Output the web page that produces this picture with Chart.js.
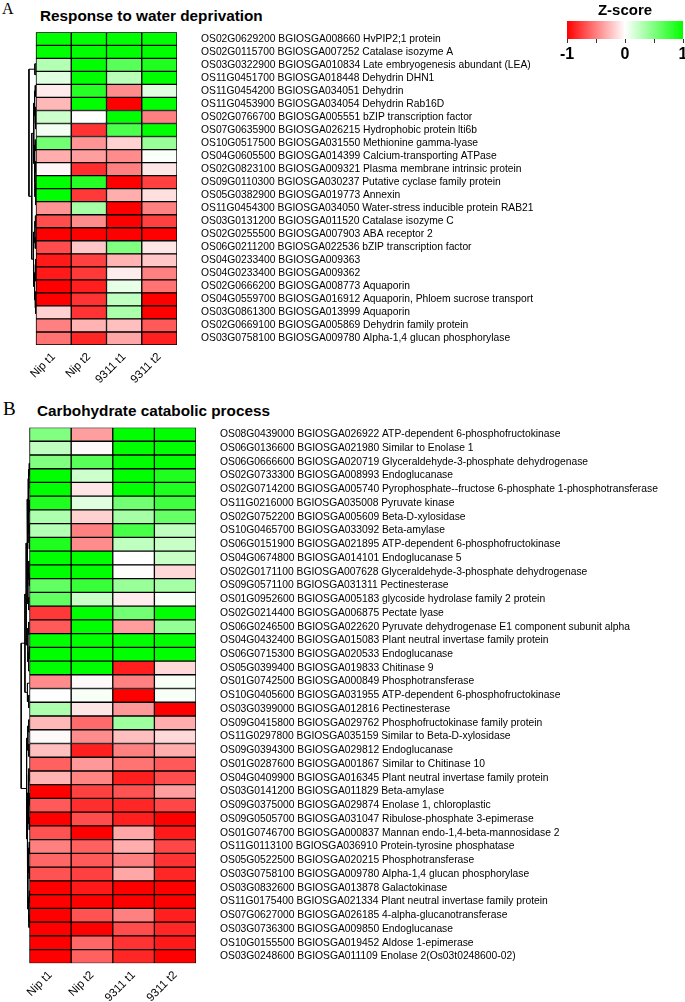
<!DOCTYPE html>
<html lang="en">
  <head>
    <meta charset="UTF-8" />
    <title>Heatmaps</title>
    <script src="https://cdn.jsdelivr.net/npm/chart.js"></script>
    <style>
      body { margin: 0; background: #fff; }
      #page { position: relative; width: 685px; height: 1002px; }
      canvas { position: absolute; }
      .tag { position: absolute; font-family: "Liberation Serif", "Times New Roman", serif; line-height: 1; }
      .ttl { position: absolute; font-family: "Liberation Sans", Arial, sans-serif; font-weight: bold; font-size: 15.3px; line-height: 1; white-space: nowrap; }
    </style>
  </head>
  <body>
    <div id="page">
      <div class="tag" style="left:2px;top:1px;font-size:16px">A</div>
      <div class="ttl" style="left:40px;top:7.5px">Response to water deprivation</div>
      <div class="tag" style="left:3px;top:399px;font-size:19px">B</div>
      <div class="ttl" style="left:37px;top:403px">Carbohydrate catabolic process</div>
      <canvas id="chartA" width="685" height="390" style="left:0;top:0"></canvas>
      <canvas id="chartB" width="685" height="612" style="left:0;top:390px"></canvas>
      <canvas id="scale" width="145" height="65" style="left:540px;top:0"></canvas>
    </div>

    <script>
      const colLabels = ["Nip t1", "Nip t2", "9311 t1", "9311 t2"];

      // A: response to water deprivation
      const waterGenes = [
        "OS02G0629200 BGIOSGA008660 HvPIP2;1 protein",
        "OS02G0115700 BGIOSGA007252 Catalase isozyme A",
        "OS03G0322900 BGIOSGA010834 Late embryogenesis abundant (LEA)",
        "OS11G0451700 BGIOSGA018448 Dehydrin DHN1",
        "OS11G0454200 BGIOSGA034051 Dehydrin",
        "OS11G0453900 BGIOSGA034054 Dehydrin Rab16D",
        "OS02G0766700 BGIOSGA005551 bZIP transcription factor",
        "OS07G0635900 BGIOSGA026215 Hydrophobic protein lti6b",
        "OS10G0517500 BGIOSGA031550 Methionine gamma-lyase",
        "OS04G0605500 BGIOSGA014399 Calcium-transporting ATPase",
        "OS02G0823100 BGIOSGA009321 Plasma membrane intrinsic protein",
        "OS09G0110300 BGIOSGA030237 Putative cyclase family protein",
        "OS05G0382900 BGIOSGA019773 Annexin",
        "OS11G0454300 BGIOSGA034050 Water-stress inducible protein RAB21",
        "OS03G0131200 BGIOSGA011520 Catalase isozyme C",
        "OS02G0255500 BGIOSGA007903 ABA receptor 2",
        "OS06G0211200 BGIOSGA022536 bZIP transcription factor",
        "OS04G0233400 BGIOSGA009363",
        "OS04G0233400 BGIOSGA009362",
        "OS02G0666200 BGIOSGA008773 Aquaporin",
        "OS04G0559700 BGIOSGA016912 Aquaporin, Phloem sucrose transport",
        "OS03G0861300 BGIOSGA013999 Aquaporin",
        "OS02G0669100 BGIOSGA005869 Dehydrin family protein",
        "OS03G0758100 BGIOSGA009780 Alpha-1,4 glucan phosphorylase",
      ];
      const waterNipT1 = [1, 1, 0.3, 0.12, -0.08, -0.28, 0.2, 0.05, 0.55, -0.32, -0.03, 1, 1, -0.42, -0.7, -1, -0.7, -0.9, -0.9, -1, -1, -0.18, -0.5, -0.55];
      const waterNipT2 = [1, 1, 1, 1, 0.85, 1, 0, -0.8, -0.42, -0.38, -0.82, 0.85, -0.78, 0.35, -0.45, -1, -0.22, -0.75, -0.78, -0.88, -0.8, -0.8, -0.3, -0.85];
      const water9311T1 = [1, 1, 0.65, 0.28, -0.45, -1, 1, 0.7, -0.18, -0.45, -0.5, -1, -0.32, -1, -1, -1, 0.5, -0.3, -0.07, 0.1, 0.25, 0.33, -0.25, -0.35];
      const water9311T2 = [1, 1, 0.88, 1, 0.12, 1, -0.5, 1, 0.4, 0.02, -0.1, -0.75, -0.12, -0.5, -0.75, -1, -0.1, -0.22, -0.5, -0.55, -1, -1, -0.65, -0.88];
      // row clustering: [height, left, right], leaves are row numbers
      const waterTree = [1, [0.15, 0, 1], [0.6,
        [0.32, [0.2, [0.1, 2, 3], [0.12, 4, [0.06, 5, 6]]], [0.22, [0.1, 7, 8], [0.15, [0.08, 9, 10], [0.05, [0.03, 11, 12], 13]]]],
        [0.35, [0.15, [0.08, 14, 15], [0.1, 16, 17]], [0.2, [0.1, [0.05, 18, 19], 20], [0.12, 21, [0.06, 22, 23]]]]]];

      // B: carbohydrate catabolic process
      const carbGenes = [
        "OS08G0439000 BGIOSGA026922 ATP-dependent 6-phosphofructokinase",
        "OS06G0136600 BGIOSGA021980 Similar to Enolase 1",
        "OS06G0666600 BGIOSGA020719 Glyceraldehyde-3-phosphate dehydrogenase",
        "OS02G0733300 BGIOSGA008993 Endoglucanase",
        "OS02G0714200 BGIOSGA005740 Pyrophosphate--fructose 6-phosphate 1-phosphotransferase",
        "OS11G0216000 BGIOSGA035008 Pyruvate kinase",
        "OS02G0752200 BGIOSGA005609 Beta-D-xylosidase",
        "OS10G0465700 BGIOSGA033092 Beta-amylase",
        "OS06G0151900 BGIOSGA021895 ATP-dependent 6-phosphofructokinase",
        "OS04G0674800 BGIOSGA014101 Endoglucanase 5",
        "OS02G0171100 BGIOSGA007628 Glyceraldehyde-3-phosphate dehydrogenase",
        "OS09G0571100 BGIOSGA031311 Pectinesterase",
        "OS01G0952600 BGIOSGA005183 glycoside hydrolase family 2 protein",
        "OS02G0214400 BGIOSGA006875 Pectate lyase",
        "OS06G0246500 BGIOSGA022620 Pyruvate dehydrogenase E1 component subunit alpha",
        "OS04G0432400 BGIOSGA015083 Plant neutral invertase family protein",
        "OS06G0715300 BGIOSGA020533 Endoglucanase",
        "OS05G0399400 BGIOSGA019833 Chitinase 9",
        "OS01G0742500 BGIOSGA000849 Phosphotransferase",
        "OS10G0405600 BGIOSGA031955 ATP-dependent 6-phosphofructokinase",
        "OS03G0399000 BGIOSGA012816 Pectinesterase",
        "OS09G0415800 BGIOSGA029762 Phosphofructokinase family protein",
        "OS11G0297800 BGIOSGA035159 Similar to Beta-D-xylosidase",
        "OS09G0394300 BGIOSGA029812 Endoglucanase",
        "OS01G0287600 BGIOSGA001867 Similar to Chitinase 10",
        "OS04G0409900 BGIOSGA016345 Plant neutral invertase family protein",
        "OS03G0141200 BGIOSGA011829 Beta-amylase",
        "OS09G0375000 BGIOSGA029874 Enolase 1, chloroplastic",
        "OS09G0505700 BGIOSGA031047 Ribulose-phosphate 3-epimerase",
        "OS01G0746700 BGIOSGA000837 Mannan endo-1,4-beta-mannosidase 2",
        "OS11G0113100 BGIOSGA036910 Protein-tyrosine phosphatase",
        "OS05G0522500 BGIOSGA020215 Phosphotransferase",
        "OS03G0758100 BGIOSGA009780 Alpha-1,4 glucan phosphorylase",
        "OS03G0832600 BGIOSGA013878 Galactokinase",
        "OS11G0175400 BGIOSGA021334 Plant neutral invertase family protein",
        "OS07G0627000 BGIOSGA026185 4-alpha-glucanotransferase",
        "OS03G0736300 BGIOSGA009850 Endoglucanase",
        "OS10G0155500 BGIOSGA019452 Aldose 1-epimerase",
        "OS03G0248600 BGIOSGA011109 Enolase 2(Os03t0248600-02)",
      ];
      const carbNipT1 = [0.5, 0.25, 0.5, 1, 1, 0.88, 0.32, 0.3, 0.88, 1, 1, 0.62, 0.62, -0.78, -0.65, 1, 1, 1, -0.45, 0, 0.32, -0.28, -0.02, -0.25, -0.62, -0.3, -1, -0.65, -1, -0.68, -0.5, -0.6, -0.68, -1, -1, -1, -1, -1, -1];
      const carbNipT2 = [-0.38, -0.02, 0.65, 0.2, -0.1, 0.12, -0.18, -0.5, -0.45, 1, 1, 0.78, 0.22, 1, 1, 1, 1, 1, -0.02, 0.03, -0.1, -0.58, -0.45, -0.88, -0.4, -0.48, -0.75, -0.82, -0.7, -1, -0.62, -0.65, -0.75, -0.9, -1, -0.68, -1, -0.6, -0.62];
      const carb9311T1 = [1, 1, 1, 1, 1, 0.55, 0.35, 0.72, 0.25, 0, -0.01, 0.4, -0.07, 0.55, -0.38, 1, 1, -0.88, -0.5, -1, -0.4, 0.38, -0.25, -0.5, -0.55, -0.88, -0.68, -0.85, -0.88, -0.35, -0.32, -0.5, -0.35, -1, -1, -0.5, -0.7, -0.8, -0.85];
      const carb9311T2 = [1, 1, 1, 0.88, 0.88, 0.75, 0.6, 0.25, 0.22, 0.22, -0.15, 0.35, 0.03, 1, 0.42, 1, 1, -0.15, 0.03, 0.03, -1, -0.32, -0.15, -0.32, -0.65, -0.7, -0.38, -0.72, -1, -0.9, -0.72, -0.8, -0.85, -1, -1, -0.88, -0.85, -0.9, -1];
      const carbTree = [1,
        [0.55,
          [0.4,
            [0.3, [0.18, [0.1, [0.05, 0, 1], 2], [0.12, [0.06, 3, 4], [0.07, 5, [0.04, 6, 7]]]], [0.2, [0.08, 8, [0.04, 9, 10]], [0.1, 11, 12]]],
            [0.2, [0.1, 13, 14], [0.12, [0.05, 15, 16], 17]]],
          [0.25, 18, [0.1, 19, 20]]],
        [0.35, [0.2, [0.1, 21, 22], [0.08, 23, 24]],
          [0.28, [0.15, [0.08, 25, 26], [0.1, [0.05, 27, 28], [0.06, 29, 30]]],
            [0.2, [0.12, [0.06, 31, 32], [0.05, 33, 34]], [0.1, [0.04, 35, 36], [0.07, 37, 38]]]]]];

      const zTicks = [-1, -0.5, 0, 0.5, 1];

      Chart.defaults.font.family = "'Liberation Sans', Arial, sans-serif";
      Chart.defaults.color = "#000";

      const zColour = (v) => {
        const t = Math.max(-1, Math.min(1, v));
        if (t < 0) {
          const c = Math.round(255 * (1 + t));
          return `rgb(255,${c},${c})`;
        }
        const c = Math.round(255 * (1 - t));
        return `rgb(${c},255,${c})`;
      };

      const DW = 0.2; // dendrogram width, in columns

      // walk the tree and collect the elbow segments
      const dendro = (node, out) => {
        if (typeof node === "number") return { y: node, h: 0 };
        const [h, l, r] = node;
        const a = dendro(l, out);
        const b = dendro(r, out);
        out.push(
          { x: -a.h * DW, y: a.y }, { x: -h * DW, y: a.y },
          { x: -h * DW, y: b.y }, { x: -b.h * DW, y: b.y },
          { x: null, y: null }
        );
        return { y: (a.y + b.y) / 2, h };
      };

      const heatmap = (id, genes, cols, tree, g) => {
        const segs = [];
        dendro(tree, segs);
        const n = genes.length;
        const datasets = cols.map((vals, j) => ({
          type: "bar",
          label: colLabels[j],
          data: genes.map(() => [j, j + 1]),
          backgroundColor: vals.map(zColour),
          borderColor: "#000",
          borderWidth: 1,
          borderSkipped: false,
          grouped: false,
          categoryPercentage: 1,
          barPercentage: 1,
          xAxisID: "x",
          yAxisID: "y",
        }));
        datasets.push({
          type: "line",
          label: "tree",
          data: segs,
          indexAxis: "x",
          xAxisID: "x",
          yAxisID: "yd",
          borderColor: "#000",
          borderWidth: 1,
          pointRadius: 0,
          tension: 0,
          spanGaps: false,
          clip: false,
        });
        new Chart(document.getElementById(id), {
          type: "bar",
          data: { labels: genes, datasets },
          options: {
            responsive: false,
            animation: false,
            indexAxis: "y",
            layout: { padding: { left: g.left, top: g.top, right: 0, bottom: 0 } },
            plugins: { legend: { display: false }, tooltip: { enabled: false } },
            scales: {
              x: {
                type: "linear",
                min: -DW,
                max: 4,
                grid: { display: false, drawTicks: false },
                border: { display: false },
                afterBuildTicks: (s) => {
                  s.ticks = colLabels.map((_, j) => ({ value: j + 0.5 }));
                },
                ticks: {
                  autoSkip: false,
                  minRotation: 45,
                  maxRotation: 45,
                  padding: 5,
                  font: { size: 11.5 },
                  callback: (v, i) => colLabels[i],
                },
                afterFit: (s) => {
                  s.height = g.axisH;
                },
              },
              y: {
                type: "category",
                position: "right",
                grid: { display: false, drawTicks: false },
                border: { display: false },
                ticks: { autoSkip: false, padding: 24, font: { size: 10.3 } },
                afterFit: (s) => {
                  s.width = g.axisW;
                },
              },
              yd: {
                type: "linear",
                axis: "y",
                display: false,
                min: -0.5,
                max: n - 0.5,
                reverse: true,
              },
            },
          },
        });
      };

      heatmap("chartA", waterGenes, [waterNipT1, waterNipT2, water9311T1, water9311T2], waterTree,
        { left: 28.95, top: 32.3, axisW: 508, axisH: 45 });
      heatmap("chartB", carbGenes, [carbNipT1, carbNipT2, carb9311T1, carb9311T2], carbTree,
        { left: 21.2, top: 37.5, axisW: 489, axisH: 38.7 });

      // colour key
      new Chart(document.getElementById("scale"), {
        type: "bar",
        data: {
          labels: ["Z-score"],
          datasets: [
            {
              data: [[zTicks[0], zTicks[zTicks.length - 1]]],
              backgroundColor: (ctx) => {
                const area = ctx.chart.chartArea;
                if (!area) return "#fff";
                const gr = ctx.chart.ctx.createLinearGradient(area.left, 0, area.right, 0);
                gr.addColorStop(0, zColour(-1));
                gr.addColorStop(0.5, zColour(0));
                gr.addColorStop(1, zColour(1));
                return gr;
              },
              borderWidth: 0,
              categoryPercentage: 1,
              barPercentage: 1,
            },
          ],
        },
        options: {
          responsive: false,
          animation: false,
          indexAxis: "y",
          layout: { padding: { left: 27, right: 2, top: 0, bottom: 0 } },
          plugins: {
            legend: { display: false },
            tooltip: { enabled: false },
            title: {
              display: true,
              text: "Z-score",
              color: "#000",
              font: { size: 15, weight: "bold" },
              padding: { top: 2, bottom: 1 },
            },
          },
          scales: {
            x: {
              type: "linear",
              min: -1,
              max: 1,
              grid: { display: true, drawOnChartArea: false, drawTicks: true, tickLength: 4, color: "#333" },
              border: { display: false },
              afterBuildTicks: (s) => {
                s.ticks = zTicks.map((v) => ({ value: v }));
              },
              ticks: {
                autoSkip: false,
                maxRotation: 0,
                padding: 2,
                font: { size: 16, weight: "bold" },
                callback: (v) => (Number.isInteger(v) ? String(v) : ""),
              },
              afterFit: (s) => {
                s.height = 26;
                s.paddingLeft = 0;
                s.paddingRight = 0;
              },
            },
            y: { display: false },
          },
        },
      });
    </script>
  </body>
</html>
